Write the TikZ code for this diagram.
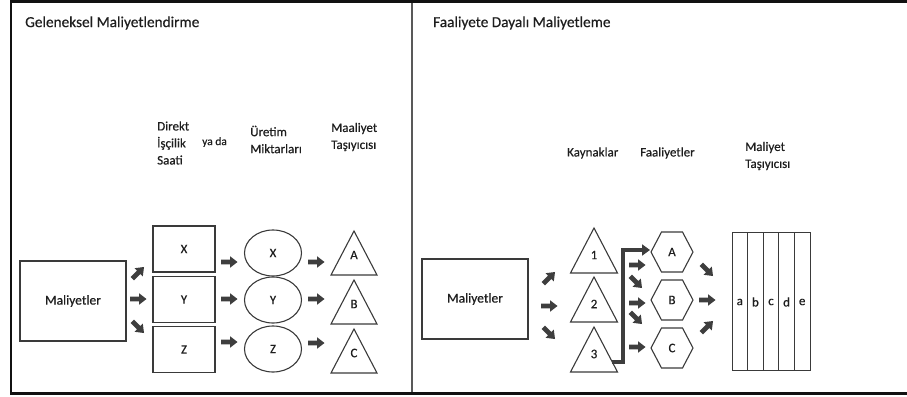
\documentclass[tikz,border=0pt]{standalone}
\usepackage{fontspec}
\setmainfont{Carlito}[FakeBold=0.5]
\usetikzlibrary{shapes.geometric,calc,arrows.meta}
\definecolor{ink}{HTML}{1E1E1E}
\definecolor{shp}{HTML}{3A3A3A}
\definecolor{arr}{HTML}{3E3E3E}
\definecolor{frm}{HTML}{111111}
\begin{document}
\begin{tikzpicture}[x=1pt,y=-1pt,
  every node/.style={text=ink},
  title/.style={anchor=west,inner sep=0,font=\fontsize{15.3}{18}\selectfont},
  head/.style={anchor=west,inner sep=0,align=left,font=\fontsize{13}{17}\selectfont},
  lbl/.style={inner sep=0,font=\fontsize{13}{15}\selectfont},
  box/.style={draw=shp,line width=1.1pt,inner sep=0,font=\fontsize{13}{15}\selectfont},
  costbox/.style={box,minimum width=106pt,minimum height=80pt,font=\fontsize{13.5}{15}\selectfont},
  ell/.style={ellipse,draw=shp,line width=1.1pt,minimum width=57pt,minimum height=46pt,inner sep=0,font=\fontsize{13}{15}\selectfont},
  shpline/.style={draw=shp,line width=1.1pt,line join=miter},
  brk/.style={draw=arr,line width=3.5pt,line join=miter,-{Triangle[length=8pt,width=11pt]}},
  pics/blk/.style={code={\fill[arr] (-8,-2.4) -- (1,-2.4) -- (1,-5.8) -- (8.5,0) -- (1,5.8) -- (1,2.4) -- (-8,2.4) -- cycle;}},
]
\useasboundingbox (0,0) rectangle (907,396);
% frame
\draw[frm,line width=3pt] (10,2) -- (907,2);
\draw[frm,line width=3pt] (10,393.5) -- (907,393.5);
\draw[frm,line width=2.2pt] (11,1) -- (11,395);
\draw[draw=black!65,line width=1.5pt] (412,3) -- (412,392);

% ---------- left panel ----------
\node[title] (titleL) at (25,23) {Geleneksel Maliyetlendirme};
\node[head] (hDL) at (157,143) {Direkt\\İşçilik\\Saati};
\node[anchor=west,inner sep=0,font=\fontsize{11.5}{13}\selectfont] (yada) at (202,142) {ya da};
\node[head] (hUM) at (250,139.5) {Üretim\\Miktarları};
\node[head] (hMT) at (331,137) {Maaliyet\\Taşıyıcısı};

\node[costbox] (costL) at (73,301) {Maliyetler};
\node[box,minimum width=62pt,minimum height=46pt] (bX) at (184,249) {X};
\node[box,minimum width=62pt,minimum height=46pt] (bY) at (184,299.5) {Y};
\node[box,minimum width=62pt,minimum height=46pt] (bZ) at (184,349.5) {Z};
\node[ell] (eX) at (273,253) {X};
\node[ell] (eY) at (273,300) {Y};
\node[ell] (eZ) at (273,349) {Z};
\node[lbl] (tA) at (354,255) {A};
\node[lbl] (tB) at (354,304) {B};
\node[lbl] (tC) at (354,353) {C};
\foreach \t in {tA,tB,tC}{
  \draw[shpline] ($(\t)+(-23,20)$) -- ($(\t)+(23,20)$) -- ($(\t)+(0,-24)$) -- cycle;
}
\pic[rotate=45] at (138,273) {blk};
\pic at (138,299) {blk};
\pic[rotate=-45] at (138,327) {blk};
\pic at (229,262) {blk};
\pic at (229,299) {blk};
\pic at (229,342) {blk};
\pic at (316,262) {blk};
\pic at (316,299) {blk};
\pic at (316,343) {blk};

% ---------- right panel ----------
\node[title] (titleR) at (433,23) {Faaliyete Dayalı Maliyetleme};
\node[head] (hK) at (567,153) {Kaynaklar};
\node[head] (hF) at (640,153) {Faaliyetler};
\node[head] (hMT2) at (745,156) {Maliyet\\Taşıyıcısı};

\node[costbox] (costR) at (475,299) {Maliyetler};
\node[lbl] (t1) at (594,255) {1};
\node[lbl] (t2) at (594,304) {2};
\node[lbl] (t3) at (594,354) {3};
\foreach \t in {t1,t2,t3}{
  \draw[shpline] ($(\t)+(-23.5,18)$) -- ($(\t)+(23.5,18)$) -- ($(\t)+(0,-27)$) -- cycle;
}
\node[lbl] (hA) at (672,252) {A};
\node[lbl] (hB) at (672,300) {B};
\node[lbl] (hC) at (672,348) {C};
\foreach \h in {hA,hB,hC}{
  \draw[shpline] ($(\h)+(-21,0)$) -- ($(\h)+(-10.5,-20)$) -- ($(\h)+(10.5,-20)$) -- ($(\h)+(21,0)$) -- ($(\h)+(10.5,20)$) -- ($(\h)+(-10.5,20)$) -- cycle;
}
\pic[rotate=45] at (549,278) {blk};
\pic at (549,306) {blk};
\pic[rotate=-45] at (549,333) {blk};

\coordinate (bstart) at ($(t3)+(18,8)$);
\draw[brk] (bstart) -| ($(hA)+(-49,-2)$) -- ($(hA)+(-22,-2)$);
\pic at (637,265) {blk};
\pic[rotate=-45] at (636,282) {blk};
\pic at (637,303) {blk};
\pic[rotate=-45] at (636,318) {blk};
\pic at (637,347) {blk};

\pic[rotate=-45] at (707,270) {blk};
\pic at (707,300) {blk};
\pic[rotate=45] at (707,327) {blk};

% cost carrier table
\draw[draw=shp,line width=1pt] (732,232) rectangle (810,370);
\foreach \xx in {747.6,763.2,778.8,794.4}{
  \draw[draw=shp,line width=1pt] (\xx,232) -- (\xx,370);
}
\foreach \l [count=\i] in {a,b,c,d,e}{
  \node[lbl] (col\l) at ({732+15.6*(\i-0.5)},302) {\l};
}
\end{tikzpicture}
\end{document}
